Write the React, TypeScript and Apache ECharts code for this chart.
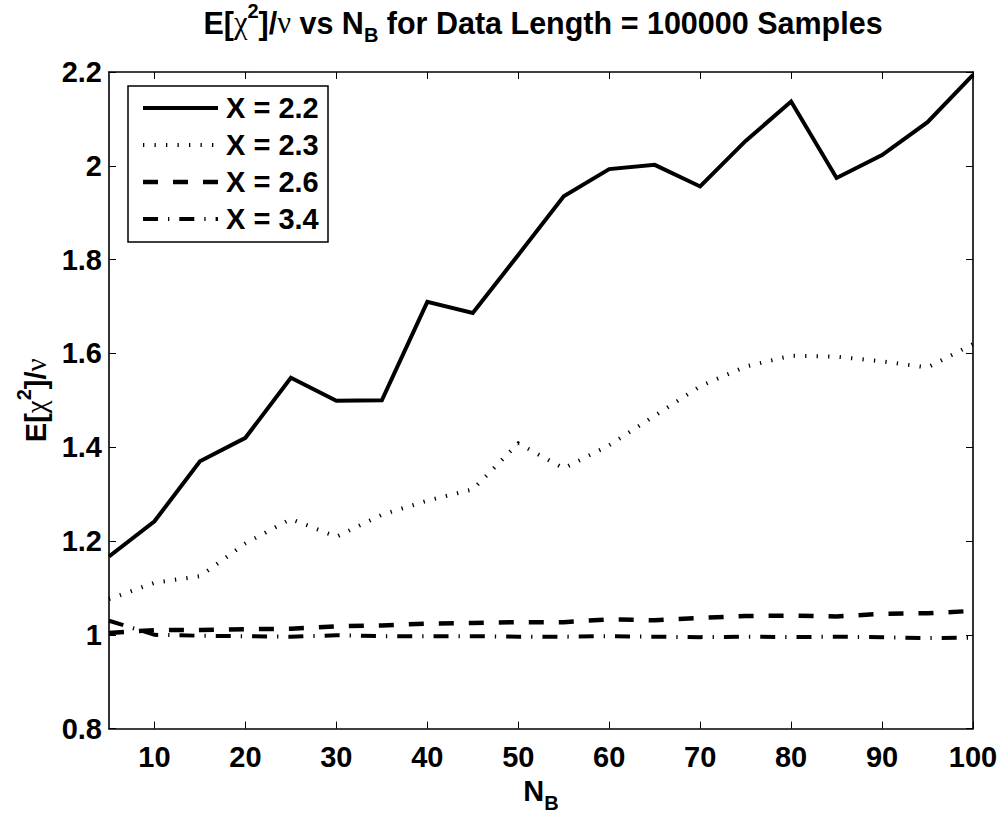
import React, { useEffect, useRef } from "react";
import * as echarts from "echarts";

const xValues = [5, 10, 15, 20, 25, 30, 35, 40, 45, 50, 55, 60, 65, 70, 75, 80, 85, 90, 95, 100];
const seriesNames = ["X = 2.2", "X = 2.3", "X = 2.6", "X = 3.4"];
const valuesX22 = [1.167, 1.242, 1.370, 1.420, 1.548, 1.499, 1.500, 1.710, 1.686, 1.810, 1.935, 1.993, 2.002, 1.956, 2.053, 2.137, 1.974, 2.023, 2.093, 2.194];
const valuesX23 = [1.076, 1.111, 1.125, 1.195, 1.247, 1.209, 1.256, 1.286, 1.310, 1.408, 1.355, 1.404, 1.467, 1.530, 1.572, 1.595, 1.593, 1.583, 1.570, 1.620];
const valuesX26 = [1.004, 1.010, 1.010, 1.012, 1.013, 1.018, 1.020, 1.024, 1.025, 1.027, 1.027, 1.033, 1.031, 1.036, 1.040, 1.041, 1.039, 1.045, 1.046, 1.051];
const valuesX34 = [1.030, 1.000, 0.998, 0.997, 0.996, 0.999, 0.997, 0.997, 0.997, 0.996, 0.996, 0.997, 0.996, 0.995, 0.996, 0.995, 0.996, 0.995, 0.993, 0.994];
const xTickValues = [10, 20, 30, 40, 50, 60, 70, 80, 90, 100];

const FONT = "'Liberation Sans', Arial, Helvetica, sans-serif";
const GREEK = "'Liberation Serif', 'DejaVu Serif', serif";
const FS = 29;

const lineStyles: any[] = [
  { width: 4, type: "solid" },
  { width: 4, type: [1.3, 10.2] },
  { width: 4.5, type: [15, 15] },
  { width: 4, type: [15, 10, 1.3, 10] },
];

export default function App() {
  const ref = useRef<HTMLDivElement>(null);
  useEffect(() => {
    if (!ref.current) return;
    const chart = echarts.init(ref.current, null, { renderer: "svg" });
    const allValues = [valuesX22, valuesX23, valuesX26, valuesX34];

    const baseRich = (fs: number, mainLH: number, supLH: number, subLH: number) => ({
      t: { fontFamily: FONT, fontWeight: "bold", fontSize: fs, lineHeight: mainLH, verticalAlign: "middle", color: "#000" },
      g: { fontFamily: GREEK, fontWeight: "normal", fontSize: fs, lineHeight: mainLH, verticalAlign: "middle", color: "#000" },
      sup: { fontFamily: FONT, fontWeight: "bold", fontSize: 20, lineHeight: supLH, verticalAlign: "top", color: "#000" },
      sub: { fontFamily: FONT, fontWeight: "bold", fontSize: 20, lineHeight: subLH, verticalAlign: "bottom", color: "#000" },
    });

    const axisCommon = {
      axisLine: { show: true, onZero: false, lineStyle: { color: "#000", width: 1.6 } },
      splitLine: { show: false },
    };

    const legendTop = 86;
    const legendRowY = [108, 145, 182, 219];
    const legendElements: any[] = [
      {
        type: "rect",
        shape: { x: 128, y: legendTop, width: 200, height: 156 },
        style: { fill: "#fff", stroke: "#000", lineWidth: 1.5 },
        z: 100,
      },
    ];
    seriesNames.forEach((name, i) => {
      const ls = lineStyles[i];
      legendElements.push({
        type: "line",
        shape: { x1: 143, y1: legendRowY[i], x2: 218, y2: legendRowY[i] },
        style: {
          stroke: "#000",
          lineWidth: ls.width,
          lineDash: ls.type === "solid" ? null : ls.type,
        },
        z: 101,
      });
      legendElements.push({
        type: "text",
        x: 226,
        y: legendRowY[i],
        style: {
          text: name,
          fontFamily: FONT,
          fontWeight: "bold",
          fontSize: FS,
          fill: "#000",
          verticalAlign: "middle",
          align: "left",
        },
        z: 101,
      });
    });

    chart.setOption({
      animation: false,
      backgroundColor: "#fff",
      title: {
        text: "{t|E[}{g|χ}{sup|2}{t|]/}{g|ν}{t| vs N}{sub|B}{t| for Data Length = 100000 Samples}",
        left: 543,
        top: 1,
        padding: 0,
        textAlign: "center",
        textStyle: { rich: baseRich(30.5, 44, 21, 8) },
      },
      grid: { left: 109, right: 28, top: 72, bottom: 78, containLabel: false },
      xAxis: [
        {
          ...axisCommon,
          type: "value",
          position: "bottom",
          min: 5,
          max: 100,
          name: "{t|N}{sub|B}",
          nameLocation: "middle",
          nameGap: 34,
          nameTextStyle: { rich: baseRich(FS, 44, 21, 17) },
          axisTick: { show: true, inside: true, length: 7, customValues: xTickValues, lineStyle: { color: "#000", width: 1 } },
          axisLabel: {
            show: true,
            customValues: xTickValues,
            margin: 14,
            fontFamily: FONT,
            fontWeight: "bold",
            fontSize: FS,
            color: "#000",
          },
        },
        {
          ...axisCommon,
          type: "value",
          position: "top",
          min: 5,
          max: 100,
          axisTick: { show: true, inside: true, length: 7, customValues: xTickValues, lineStyle: { color: "#000", width: 1 } },
          axisLabel: { show: false },
        },
      ],
      yAxis: [
        {
          ...axisCommon,
          type: "value",
          position: "left",
          min: 0.8,
          max: 2.2,
          interval: 0.2,
          name: "{t|E[}{g|χ}{sup|2}{t|]/}{g|ν}",
          nameLocation: "middle",
          nameRotate: 90,
          nameGap: 51,
          nameTextStyle: { rich: baseRich(FS, 44, 21, 8) },
          axisTick: { show: true, inside: true, length: 7, lineStyle: { color: "#000", width: 1 } },
          axisLabel: {
            show: true,
            margin: 7,
            fontFamily: FONT,
            fontWeight: "bold",
            fontSize: FS,
            color: "#000",
            formatter: (v: number) => String(Math.round(v * 10) / 10),
          },
        },
        {
          ...axisCommon,
          type: "value",
          position: "right",
          min: 0.8,
          max: 2.2,
          interval: 0.2,
          axisTick: { show: true, inside: true, length: 7, lineStyle: { color: "#000", width: 1 } },
          axisLabel: { show: false },
        },
      ],
      series: seriesNames.map((name, i) => ({
        name,
        type: "line",
        xAxisIndex: 0,
        yAxisIndex: 0,
        showSymbol: false,
        symbol: "none",
        clip: true,
        data: xValues.map((x, j) => [x, allValues[i][j]]),
        lineStyle: { color: "#000", width: lineStyles[i].width, type: lineStyles[i].type, cap: "butt", join: "miter" },
        z: 3,
      })),
      graphic: legendElements,
    });
    return () => chart.dispose();
  }, []);
  return <div ref={ref} style={{ position: "absolute", left: 0, top: 0, width: 1001, height: 818 }} />;
}
